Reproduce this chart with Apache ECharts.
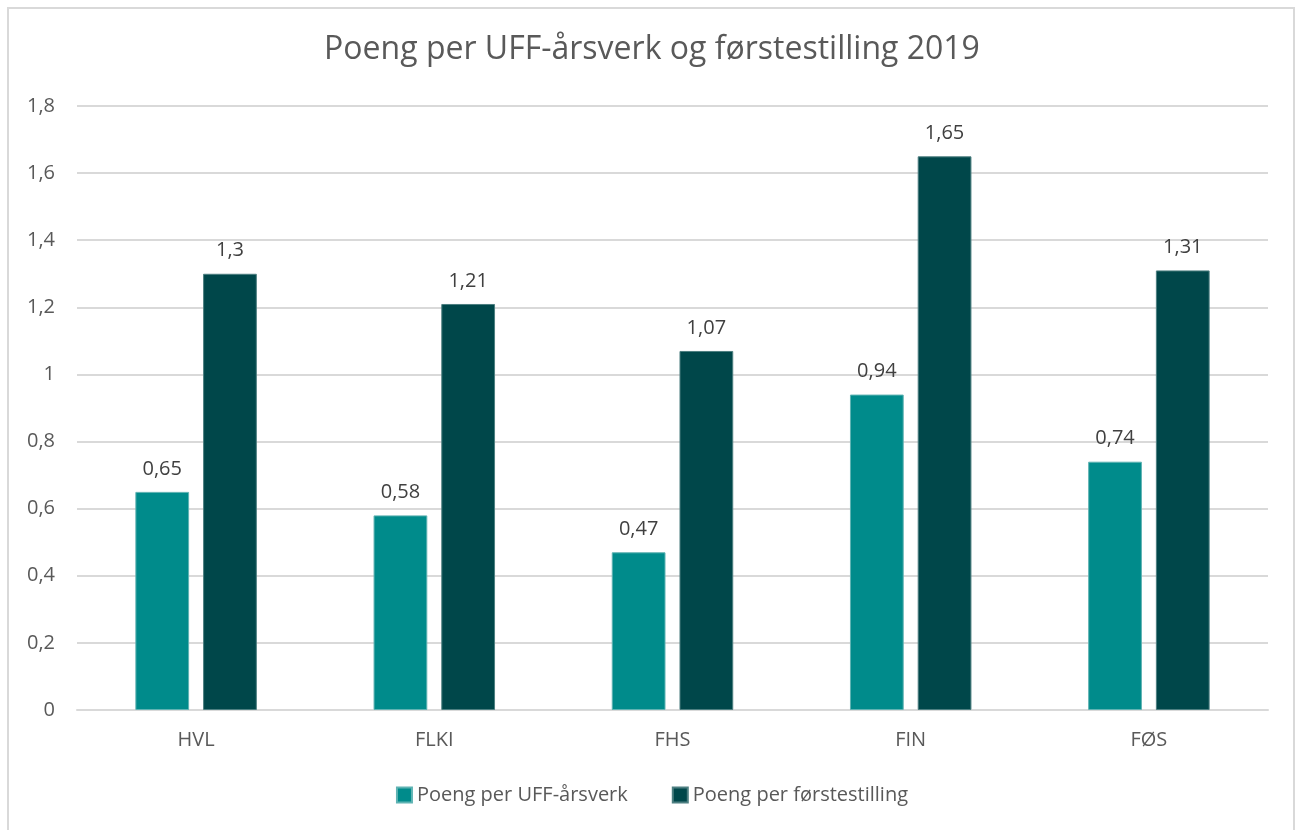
<!DOCTYPE html>
<html>
<head>
<meta charset="utf-8">
<script src="https://cdn.jsdelivr.net/npm/echarts@6/dist/echarts.min.js"></script>
<style>
html,body{margin:0;padding:0;background:#fff;}
#frame{position:absolute;left:7px;top:7px;width:1288px;height:840px;border:2px solid #d9d9d9;box-sizing:border-box;}
#chart{position:absolute;left:0;top:0;width:1304px;height:830px;}
</style>
</head>
<body>
<div id="frame"></div>
<div id="chart"></div>
<script>
const categories = ['HVL', 'FLKI', 'FHS', 'FIN', 'FØS'];
const seriesNames = ['Poeng per UFF-årsverk', 'Poeng per førstestilling'];
const uffValues = [0.65, 0.58, 0.47, 0.94, 0.74];
const forsteValues = [1.3, 1.21, 1.07, 1.65, 1.31];
const titleText = 'Poeng per UFF-årsverk og førstestilling 2019';

const fmt = v => String(v).replace('.', ',');
const font = 'Open Sans';

const chart = echarts.init(document.getElementById('chart'), null, {renderer: 'canvas'});
chart.setOption({
  animation: false,
  backgroundColor: 'transparent',
  title: {
    text: titleText,
    left: 'center',
    top: 29,
    textStyle: {fontFamily: font, fontSize: 32, fontWeight: 'normal', color: '#595959'}
  },
  legend: {
    data: seriesNames,
    bottom: 20,
    left: 'center',
    itemWidth: 15,
    itemHeight: 15,
    itemGap: 44,
    icon: 'rect',
    textStyle: {fontFamily: font, fontSize: 20, color: '#595959'}
  },
  grid: {left: 77, right: 36, top: 106, bottom: 120, containLabel: false},
  xAxis: {
    type: 'category',
    data: categories,
    axisLine: {lineStyle: {color: '#d9d9d9', width: 2}},
    axisTick: {show: false},
    axisLabel: {fontFamily: font, fontSize: 20, color: '#595959', margin: 20}
  },
  yAxis: {
    type: 'value',
    min: 0, max: 1.8, interval: 0.2,
    axisLine: {show: false},
    axisTick: {show: false},
    splitLine: {lineStyle: {color: '#d9d9d9', width: 2}},
    axisLabel: {fontFamily: font, fontSize: 20, color: '#595959', margin: 22,
      formatter: v => fmt(Math.round(v * 10) / 10)}
  },
  series: [
    {
      name: seriesNames[0], type: 'bar', data: uffValues,
      barGap: '26%', barCategoryGap: '49%',
      itemStyle: {color: '#008b8b', borderColor: '#5fb3b3', borderWidth: 1},
      label: {show: true, position: 'top', distance: 13, formatter: p => fmt(p.value),
        fontFamily: font, fontSize: 20, color: '#404040'}
    },
    {
      name: seriesNames[1], type: 'bar', data: forsteValues,
      itemStyle: {color: '#00474a', borderColor: '#4d7f81', borderWidth: 1},
      label: {show: true, position: 'top', distance: 13, formatter: p => fmt(p.value),
        fontFamily: font, fontSize: 20, color: '#404040'}
    }
  ]
});
</script>
</body>
</html>
